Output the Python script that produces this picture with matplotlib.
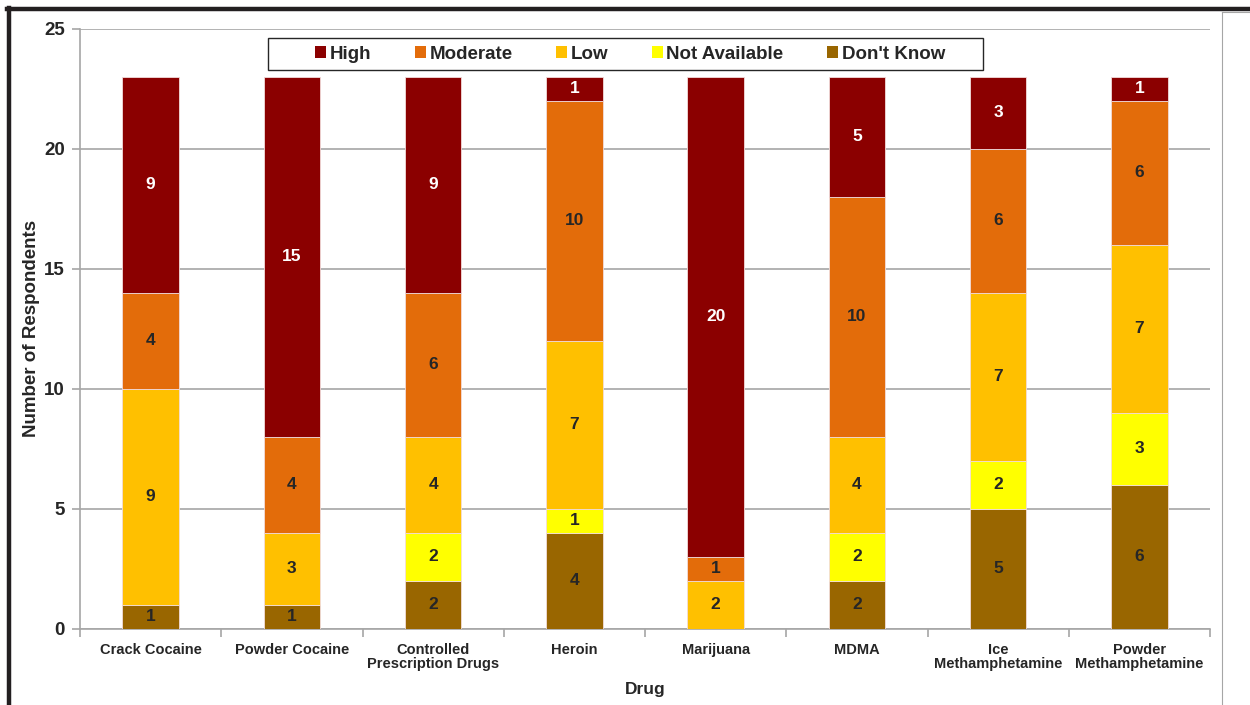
import numpy as np
import matplotlib.pyplot as plt
from matplotlib.lines import Line2D
from matplotlib.patches import Rectangle
from matplotlib.ticker import FixedLocator

plt.rcParams['font.family'] = ['Liberation Sans', 'DejaVu Sans']

drugs = ["Crack Cocaine", "Powder Cocaine", "Controlled\nPrescription Drugs", "Heroin",
         "Marijuana", "MDMA", "Ice\nMethamphetamine", "Powder\nMethamphetamine"]

# stacked from bottom up
dont_know = [1, 1, 2, 4, 0, 2, 5, 6]
not_available = [0, 0, 2, 1, 0, 2, 2, 3]
low = [9, 3, 4, 7, 2, 4, 7, 7]
moderate = [4, 4, 6, 10, 1, 10, 6, 6]
high = [9, 15, 9, 1, 20, 5, 3, 1]

series = [
    ("Don't Know", dont_know, "#996600", "#262626"),
    ("Not Available", not_available, "#FFFF00", "#262626"),
    ("Low", low, "#FFC000", "#262626"),
    ("Moderate", moderate, "#E36C0A", "#262626"),
    ("High", high, "#8B0000", "white"),
]

fig = plt.figure(figsize=(12.5, 7.05), dpi=100)
ax = fig.add_axes([0.064, 0.108, 0.904, 0.851])

x = np.arange(len(drugs))
bottom = np.zeros(len(drugs))
handles = {}
for name, vals, color, tcolor in series:
    vals = np.array(vals)
    bars = ax.bar(x, vals, 0.4, bottom=bottom, color=color, edgecolor="#F2DCDB",
                  linewidth=0.6, label=name, zorder=3)
    handles[name] = bars
    for xi, v, b in zip(x, vals, bottom):
        if v > 0:
            ax.text(xi, b + v / 2, str(v), ha="center", va="center", fontsize=12.5,
                    fontweight="bold", color=tcolor, zorder=4)
    bottom += vals

ax.set_xlim(-0.5, len(drugs) - 0.5)
ax.set_ylim(0, 25)
ax.set_yticks([0, 5, 10, 15, 20, 25])
ax.yaxis.grid(True, color="#A6A6A6", linewidth=1.2, zorder=0)
ax.set_axisbelow(True)

for s in ["top", "right"]:
    ax.spines[s].set_visible(False)
for s in ["left", "bottom"]:
    ax.spines[s].set_color("#A6A6A6")
    ax.spines[s].set_linewidth(1.2)

ax.set_xticks(x)
ax.set_xticklabels(drugs, fontsize=10.5, fontweight="bold", color="#262626",
                   linespacing=1.0)
ax.tick_params(axis="x", which="major", length=0, pad=10)
ax.xaxis.set_minor_locator(FixedLocator(np.arange(-0.5, len(drugs), 1.0)))
ax.tick_params(axis="x", which="minor", length=6, color="#A6A6A6", width=1.2)
ax.tick_params(axis="y", length=6, color="#A6A6A6", width=1.2, labelsize=13.5,
               labelcolor="#262626", pad=5)
for lbl in ax.get_yticklabels():
    lbl.set_fontweight("bold")

ax.set_xlabel("Drug", fontsize=12.5, fontweight="bold", color="#262626", labelpad=8)
ax.set_ylabel("Number of Respondents", fontsize=13.5, fontweight="bold", color="#262626",
              labelpad=3)

order = ["High", "Moderate", "Low", "Not Available", "Don't Know"]
leg = fig.legend([handles[n] for n in order], order, ncol=5, loc="center",
                 bbox_to_anchor=(0.504, 0.923), frameon=False,
                 handlelength=0.6, handleheight=0.6,
                 handletextpad=0.2, columnspacing=2.3, borderpad=0.35,
                 prop={"size": 13.5, "weight": "bold"})
for t in leg.get_texts():
    t.set_color("#262626")
for h in leg.legend_handles:
    h.set_edgecolor("none")
# legend box is wider than its content
fig.add_artist(Rectangle((0.2144, 0.9007), 0.572, 0.0454, transform=fig.transFigure,
                         facecolor="white", edgecolor="#262626", linewidth=1.0, zorder=4))
leg.set_zorder(5)

# page frame
fig.add_artist(Line2D([0.0056, 1.0], [0.987, 0.987], color="#231F20", linewidth=3.2))
fig.add_artist(Line2D([0.0072, 0.0072], [0.0, 0.989], color="#231F20", linewidth=3.2))
fig.add_artist(Line2D([0.9776, 0.9776], [0.0, 0.983], color="#A6A6A6", linewidth=0.8))
fig.add_artist(Line2D([0.9776, 1.0], [0.983, 0.983], color="#A6A6A6", linewidth=0.8))

fig.savefig("out.png", dpi=100)
